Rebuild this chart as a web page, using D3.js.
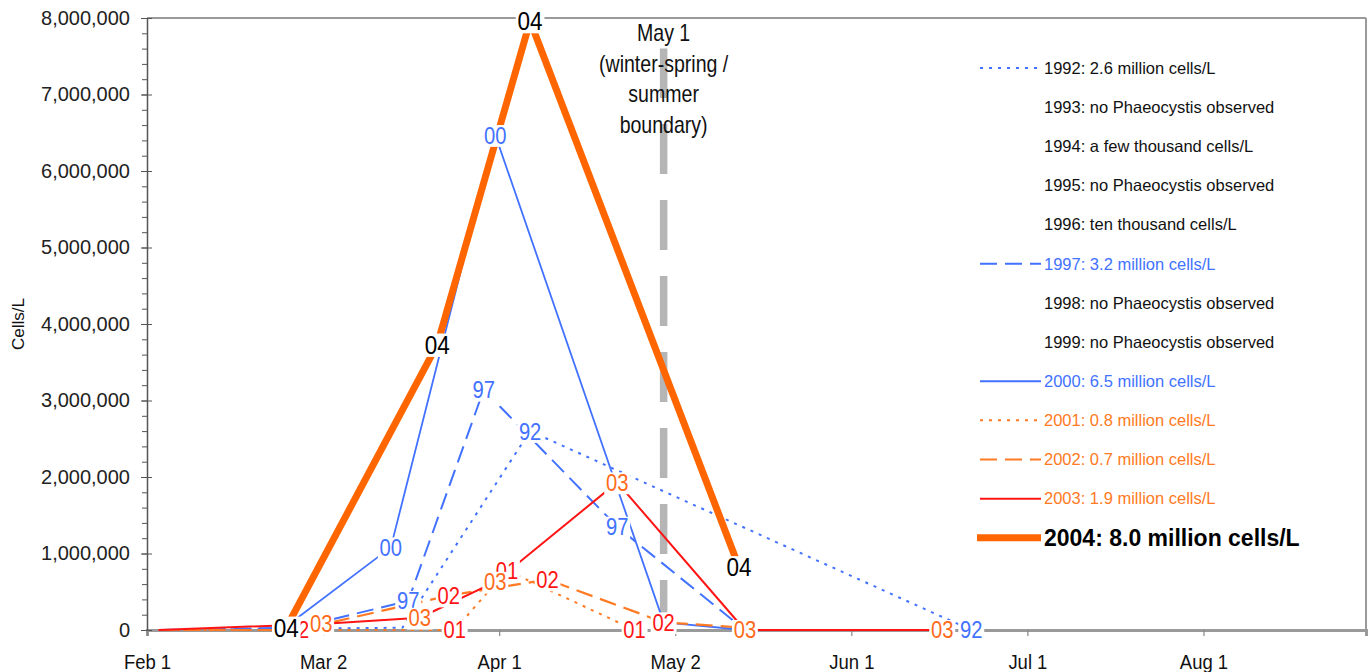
<!DOCTYPE html>
<html><head><meta charset="utf-8">
<script src="https://cdn.jsdelivr.net/npm/d3@7"></script>
<style>
body{margin:0;background:#fff}
svg{display:block;font-family:"Liberation Sans",Arial,sans-serif}
</style>
</head><body>
<svg id="chart" width="1369" height="672"></svg>
<script>
// ---------- data ----------
const xTickLabels = ["Feb 1","Mar 2","Apr 1","May 2","Jun 1","Jul 1","Aug 1"];
const yTickValues = [0,1000000,2000000,3000000,4000000,5000000,6000000,7000000,8000000];

const dates1992 = ["02-03","03-16","04-07","06-22"];
const values1992 = [0, 30000, 2600000, 0];
const shown1992 = [0,0,1,1];

const dates1997 = ["02-03","02-27","03-17","03-30","04-22","05-14"];
const values1997 = [0, 30000, 380000, 3140000, 1350000, 0];
const shown1997 = [0,0,1,1,1,0];

const dates2000 = ["02-25","03-14","04-01","04-30","05-14","06-17"];
const values2000 = [50000, 1080000, 6470000, 100000, 0, 0];
const shown2000 = [0,1,1,0,0,0];

const dates2001 = ["02-03","02-27","03-25","04-03","04-25"];
const values2001 = [0, 0, 0, 780000, 0];
const shown2001 = [0,0,1,1,1];

const dates2002 = ["02-03","02-27","03-24","04-10","04-30","05-14"];
const values2002 = [0, 0, 450000, 660000, 100000, 30000];
const shown2002 = [0,1,1,1,1,0];

const dates2003 = ["02-03","03-02","03-19","04-01","04-22","05-14","06-17"];
const values2003 = [0, 80000, 160000, 630000, 1930000, 0, 0];
const shown2003 = [0,1,1,1,1,1,1];

const dates2004 = ["02-25","03-22","04-07","05-13"];
const values2004 = [30000, 3730000, 7960000, 820000];
const shown2004 = [1,1,1,1];

const legendYears = ["1992","1993","1994","1995","1996","1997","1998","1999","2000","2001","2002","2003","2004"];
const legendTexts = ["1992: 2.6 million cells/L","1993: no Phaeocystis observed","1994: a few thousand cells/L",
  "1995: no Phaeocystis observed","1996: ten thousand cells/L","1997: 3.2 million cells/L",
  "1998: no Phaeocystis observed","1999: no Phaeocystis observed","2000: 6.5 million cells/L",
  "2001: 0.8 million cells/L","2002: 0.7 million cells/L","2003: 1.9 million cells/L","2004: 8.0 million cells/L"];

const boundaryDate = "04-30";
const boundaryTop = 7600000;
const boundaryText = ["May 1","(winter-spring /","summer","boundary)"];

// ---------- styles ----------
const BLUE = "#4272ff", ORANGE = "#ff7a22", RED = "#ff1414", BIG = "#ff6600";
const styles = {
  "1992": {color: BLUE, width: 2, dash: "3,6", label: BLUE, text: "#111"},
  "1997": {color: BLUE, width: 2, dash: "17,8", label: BLUE, text: BLUE},
  "2000": {color: BLUE, width: 1.8, dash: null, label: BLUE, text: BLUE},
  "2001": {color: ORANGE, width: 2, dash: "3,6", label: RED, text: ORANGE},
  "2002": {color: ORANGE, width: 2.2, dash: "17,8", label: RED, text: ORANGE},
  "2003": {color: RED, width: 2, dash: null, label: "#ff6a1a", text: ORANGE},
  "2004": {color: BIG, width: 7, dash: null, label: "#000", text: "#000"}
};

const series = [
  {year:"1992", dates:dates1992, values:values1992, shown:shown1992, tag:"92"},
  {year:"1997", dates:dates1997, values:values1997, shown:shown1997, tag:"97"},
  {year:"2000", dates:dates2000, values:values2000, shown:shown2000, tag:"00"},
  {year:"2001", dates:dates2001, values:values2001, shown:shown2001, tag:"01"},
  {year:"2002", dates:dates2002, values:values2002, shown:shown2002, tag:"02"},
  {year:"2003", dates:dates2003, values:values2003, shown:shown2003, tag:"03"},
  {year:"2004", dates:dates2004, values:values2004, shown:shown2004, tag:"04"}
];

// day-of-year in a leap-year calendar (Feb 1 = 32)
const dayOf = md => {
  const dt = new Date(Date.UTC(2004, +md.slice(0,2) - 1, +md.slice(3)));
  return d3.utcDay.count(d3.utcYear(dt), dt) + 1;
};

// ---------- layout ----------
const L = 147, R = 1366, T = 18, B = 630;
const svg = d3.select("#chart");
const x = d3.scaleLinear().domain([32, 242]).range([L, R]);
const y = d3.scaleLinear().domain([0, 8000000]).range([B, T]);
const xTickValues = xTickLabels.map((_, i) => 32 + i * 91 / 3);

// frame: top and right borders
svg.append("line").attr("x1", L).attr("x2", R).attr("y1", T).attr("y2", T)
  .attr("stroke", "#9a9a9a").attr("stroke-width", 2);
svg.append("line").attr("x1", R).attr("x2", R).attr("y1", T).attr("y2", B)
  .attr("stroke", "#9a9a9a").attr("stroke-width", 2);

// x axis
const xg = svg.append("g").attr("transform", `translate(0,${B})`)
  .call(d3.axisBottom(x).tickValues(xTickValues).tickFormat((d, i) => xTickLabels[i]).tickSize(6).tickPadding(0));
xg.select(".domain").attr("stroke", "#9a9a9a").attr("stroke-width", 3);
xg.selectAll(".tick line").attr("stroke", "#888").attr("stroke-width", 1.2);
xg.selectAll(".tick text").attr("fill", "#111").attr("font-size", 21)
  .attr("y", 0).attr("dy", 0)
  .attr("transform", "translate(0,39) scale(0.88,1)");

// y axis (minor ticks)
const ym = svg.append("g").attr("transform", `translate(${L},0)`)
  .call(d3.axisLeft(y).tickValues(d3.range(0, 8000001, 200000)).tickFormat("").tickSize(5));
ym.select(".domain").remove();
ym.selectAll(".tick line").attr("stroke", "#555");
// y axis (major)
const yg = svg.append("g").attr("transform", `translate(${L},0)`)
  .call(d3.axisLeft(y).tickValues(yTickValues).tickFormat(d3.format(",")).tickSizeInner(6).tickSizeOuter(0).tickPadding(11));
yg.select(".domain").attr("stroke", "#555").attr("stroke-width", 1.5);
yg.selectAll(".tick line").attr("stroke", "#555").attr("x2", 5).attr("x1", -6);
yg.selectAll(".tick text").attr("fill", "#222").attr("font-size", 20);

// y title
svg.append("text").attr("transform", `translate(24,${(T + B) / 2}) rotate(-90)`)
  .attr("text-anchor", "middle").attr("font-size", 17).attr("fill", "#111").text("Cells/L");

// boundary line
const bx = x(dayOf(boundaryDate));
svg.append("line").attr("x1", bx).attr("x2", bx).attr("y1", y(0)).attr("y2", y(boundaryTop))
  .attr("stroke", "#b5b5b5").attr("stroke-width", 7.5).attr("stroke-dasharray", "50,26");

// series lines
const line = d3.line().x(d => x(d.day)).y(d => y(d.value));
series.forEach(s => {
  s.points = s.dates.map((md, i) => ({day: dayOf(md), value: s.values[i], shown: s.shown[i]}));
  const st = styles[s.year];
  svg.append("path").datum(s.points).attr("d", line)
    .attr("fill", "none").attr("stroke", st.color).attr("stroke-width", st.width)
    .attr("stroke-dasharray", st.dash).attr("stroke-linejoin", "round").attr("stroke-linecap", "butt");
});

// boundary annotation
const ann = svg.append("g");
boundaryText.forEach((t, i) => {
  ann.append("text").attr("transform", `translate(${bx},${41 + i * 30.5}) scale(0.85,1)`)
    .attr("text-anchor", "middle").attr("font-size", 23).attr("fill", "#111").text(t);
});

// data labels
series.forEach(s => {
  const st = styles[s.year];
  const big = s.year === "2004";
  s.points.filter(p => p.shown).forEach(p => {
    const g = svg.append("g")
      .attr("transform", `translate(${x(p.day)},${y(p.value)}) scale(${big ? 0.9 : 0.86},1)`);
    const r = g.append("rect").attr("fill", "#fff");
    const t = g.append("text").attr("text-anchor", "middle").attr("dy", "0.36em")
      .attr("font-size", big ? 25 : 23.5).attr("fill", st.label).text(s.tag);
    const bb = t.node().getBBox();
    r.attr("x", bb.x - 2).attr("y", bb.y + 3).attr("width", bb.width + 4).attr("height", bb.height - 5);
  });
});

// legend
const lg = svg.append("g");
legendYears.forEach((yr, i) => {
  const yy = 68 + i * 39.15;
  const st = styles[yr];
  const big = yr === "2004";
  if (st) {
    lg.append("line").attr("x1", big ? 977 : 980).attr("x2", 1041).attr("y1", yy).attr("y2", yy)
      .attr("stroke", st.color).attr("stroke-width", big ? 7 : 2).attr("stroke-dasharray", st.dash);
  }
  lg.append("text").attr("x", 1044).attr("y", yy).attr("dy", "0.35em")
    .attr("font-size", big ? 23 : 16.5).attr("font-weight", big ? "bold" : "normal")
    .attr("fill", st ? st.text : "#111").text(legendTexts[i]);
});
</script>
</body></html>
